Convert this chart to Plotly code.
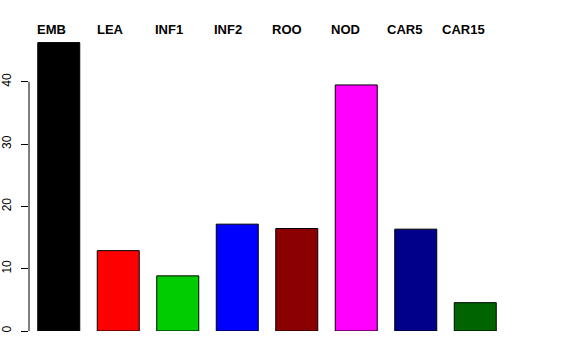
import plotly.graph_objects as go

categories = ["EMB", "LEA", "INF1", "INF2", "ROO", "NOD", "CAR5", "CAR15"]
values = [46.3, 12.9, 8.85, 17.15, 16.45, 39.5, 16.35, 4.55]
colors = ["#000000", "#FF0000", "#00CD00", "#0000FF", "#8B0000", "#FF00FF", "#00008B", "#006400"]
ytick_vals = [0, 10, 20, 30, 40]

xs = list(range(len(categories)))
fig = go.Figure()
fig.add_trace(go.Bar(
    x=xs, y=values, width=0.706,
    marker=dict(color=colors, line=dict(color="#000000", width=1)),
    showlegend=False, hoverinfo="skip",
))

annotations = []
for i, c in enumerate(categories):
    off = (-7 - 0.72 * i) / 59.5
    annotations.append(dict(
        x=i + off, xref="x", y=1, yref="paper", yanchor="middle", yshift=3,
        text="<b>%s</b>" % c, showarrow=False,
        font=dict(family="Liberation Sans, Arial, sans-serif", size=13, color="#000000"),
    ))

fig.update_layout(
    width=576, height=360,
    margin=dict(l=29.3, r=70.7, t=32, b=29, autoexpand=False),
    paper_bgcolor="white", plot_bgcolor="white",
    font=dict(family="Liberation Sans, Arial, sans-serif", size=12, color="#000000"),
    xaxis=dict(range=[-0.5, 7.5], showticklabels=False, showgrid=False, zeroline=False,
               showline=False, ticks="", automargin=False),
    yaxis=dict(range=[0, 48], tickvals=ytick_vals, ticks="outside", ticklen=7,
               tickcolor="#000000", tickwidth=1, tickangle=-90, showgrid=False,
               zeroline=False, showline=False, ticklabelstandoff=5, automargin=False),
    annotations=annotations,
    shapes=[dict(type="line", xref="paper", yref="y", x0=0, x1=0, y0=0, y1=40,
                 line=dict(color="#000000", width=1))],
)

fig.write_html("out.html", config={"displayModeBar": False},
               post_script="document.body.style.margin='0';document.body.style.overflow='hidden';")
